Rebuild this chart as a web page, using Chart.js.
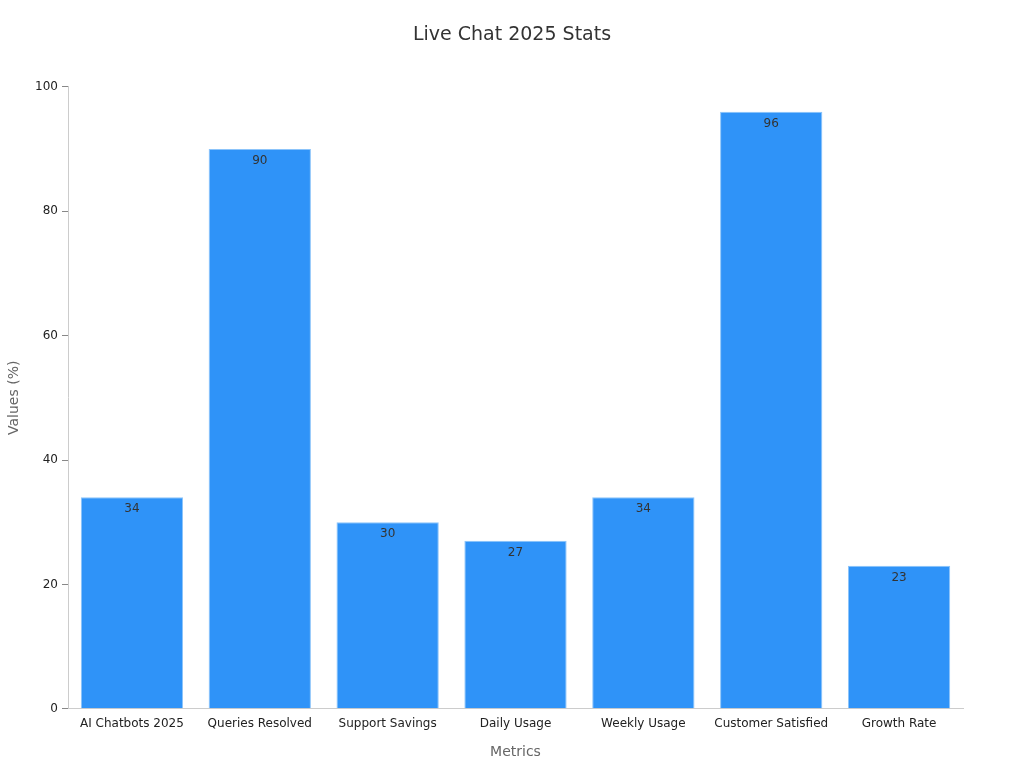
<!DOCTYPE html>
<html><head><meta charset="utf-8">
<script src="https://cdn.jsdelivr.net/npm/chart.js@4"></script>
<style>html,body{margin:0;padding:0;background:#fff}#wrap{width:1024px;height:768px}</style>
</head><body><div id="wrap"><canvas id="c" width="1024" height="768"></canvas></div>
<script>
const categories = ["AI Chatbots 2025","Queries Resolved","Support Savings","Daily Usage","Weekly Usage","Customer Satisfied","Growth Rate"];
const values = [34, 90, 30, 27, 34, 96, 23];
const yTicks = [0, 20, 40, 60, 80, 100];

const labelPlugin = {
  id: 'barLabels',
  afterDatasetsDraw(chart) {
    const ctx = chart.ctx;
    const meta = chart.getDatasetMeta(0);
    ctx.save();
    ctx.font = '12px "DejaVu Sans"';
    ctx.fillStyle = '#333333';
    ctx.textAlign = 'center';
    ctx.textBaseline = 'top';
    meta.data.forEach((bar, i) => {
      ctx.fillText(String(values[i]), bar.x, bar.y + 6);
    });
    ctx.restore();
  }
};

new Chart(document.getElementById('c'), {
  type: 'bar',
  data: {
    labels: categories,
    datasets: [{
      data: values,
      backgroundColor: '#2f93f8',
      borderColor: '#8cc4fa',
      borderWidth: 1,
      categoryPercentage: 1.0,
      barPercentage: 0.8
    }]
  },
  options: {
    responsive: false,
    animation: false,
    devicePixelRatio: 1,
    layout: { padding: { left: 0, right: 0, top: 14, bottom: 3 } },
    plugins: {
      legend: { display: false },
      tooltip: { enabled: false },
      title: {
        display: true,
        text: 'Live Chat 2025 Stats',
        color: '#333333',
        font: { family: 'DejaVu Sans', size: 19, weight: 'normal' },
        padding: { top: 10, bottom: 40 }
      }
    },
    scales: {
      x: {
        grid: { display: false, drawTicks: true, tickLength: 6, color: '#cccccc' },
        border: { display: true, color: '#cccccc' },
        ticks: { color: '#222222', font: { family: 'DejaVu Sans', size: 12 }, maxRotation: 0, padding: 2 },
        title: { display: true, text: 'Metrics', color: '#666666', font: { family: 'DejaVu Sans', size: 14 }, padding: { top: 11 } }
      },
      y: {
        min: 0, max: 100,
        afterBuildTicks(axis) { axis.ticks = yTicks.map(v => ({ value: v })); },
        afterFit(axis) { axis.width = 68; },
        grid: { display: true, drawOnChartArea: false, drawTicks: true, tickLength: 6, color: '#888888' },
        border: { display: true, color: '#cccccc' },
        ticks: { color: '#222222', font: { family: 'DejaVu Sans', size: 12 }, padding: 4 },
        title: { display: true, text: 'Values (%)', color: '#666666', font: { family: 'DejaVu Sans', size: 14 }, padding: { top: 6, bottom: 16 } }
      },
      yRight: {
        position: 'right',
        display: true,
        min: 0, max: 100,
        afterFit(axis) { axis.width = 61; },
        grid: { display: false },
        border: { display: false },
        ticks: { display: false }
      }
    }
  },
  plugins: [labelPlugin]
});
</script></body></html>
